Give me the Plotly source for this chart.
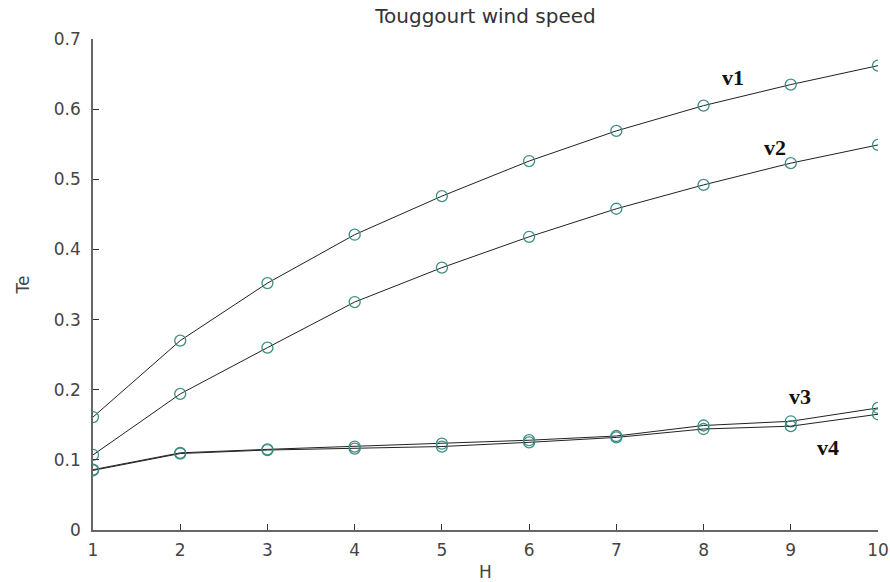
import plotly.graph_objects as go

H = [1, 2, 3, 4, 5, 6, 7, 8, 9, 10]
v1 = [0.161, 0.270, 0.352, 0.421, 0.476, 0.526, 0.569, 0.605, 0.635, 0.662]
v2 = [0.107, 0.194, 0.260, 0.325, 0.374, 0.418, 0.458, 0.492, 0.523, 0.549]
v3 = [0.086, 0.110, 0.115, 0.119, 0.123, 0.128, 0.134, 0.149, 0.155, 0.174]
v4 = [0.085, 0.109, 0.114, 0.116, 0.119, 0.125, 0.132, 0.144, 0.148, 0.165]
series = {"v1": v1, "v2": v2, "v3": v3, "v4": v4}
labels = [("v1", 8.34, 0.645), ("v2", 8.82, 0.545), ("v3", 9.10, 0.190), ("v4", 9.43, 0.118)]
y_ticks = [0, 0.1, 0.2, 0.3, 0.4, 0.5, 0.6, 0.7]
y_tick_text = ["0", "0.1", "0.2", "0.3", "0.4", "0.5", "0.6", "0.7"]

fig = go.Figure()
for name, ys in series.items():
    fig.add_trace(go.Scatter(
        x=H, y=ys, mode="lines+markers", name=name,
        line=dict(color="#222222", width=1),
        marker=dict(symbol="circle-open", size=11, color="#3c8f84", line=dict(width=1.3)),
        showlegend=False,
    ))

for text, x, y in labels:
    fig.add_annotation(x=x, y=y, text="<b>%s</b>" % text, showarrow=False,
                       font=dict(family="Liberation Serif", size=22, color="#111111"))

axis_font = dict(family="DejaVu Sans", size=17, color="#444444")
fig.update_layout(
    width=890, height=582,
    margin=dict(l=93, r=12, t=39, b=52),
    paper_bgcolor="white", plot_bgcolor="white",
    title=dict(text="Touggourt wind speed", xref="paper", x=0.5, xanchor="center",
               y=1 - 16 / 582, yanchor="middle",
               font=dict(family="DejaVu Sans", size=20, color="#333333")),
    xaxis=dict(range=[1, 10], tickmode="array", tickvals=H, ticktext=[str(h) for h in H],
               showgrid=False, zeroline=False, showline=True, linecolor="#666666", linewidth=1.5,
               ticks="inside", ticklen=6, tickcolor="#333333", tickfont=axis_font,
               ticklabelstandoff=4, automargin=False,
               title=dict(text="H", font=axis_font, standoff=9)),
    yaxis=dict(range=[0, 0.7], tickmode="array", tickvals=y_ticks, ticktext=y_tick_text,
               showgrid=False, zeroline=False, showline=True, linecolor="#666666", linewidth=1.5,
               ticks="inside", ticklen=6, tickcolor="#333333", tickfont=axis_font,
               ticklabelstandoff=7, automargin=False,
               title=dict(text="Te", font=axis_font, standoff=20)),
)

fig.write_html("out.html")
